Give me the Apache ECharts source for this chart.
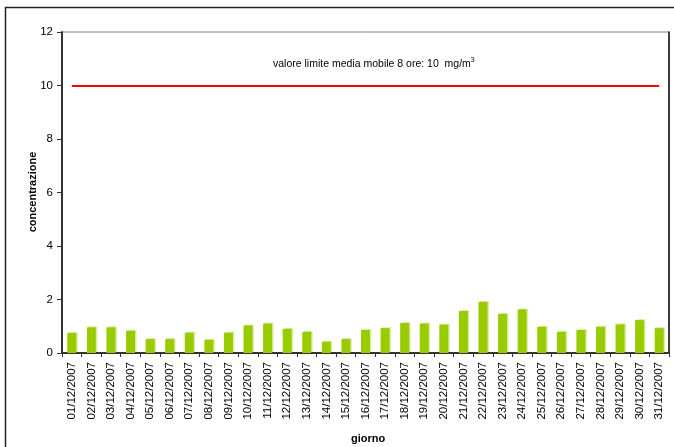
<!DOCTYPE html>
<html><head><meta charset="utf-8">
<script src="https://cdn.jsdelivr.net/npm/echarts@6/dist/echarts.min.js"></script>
<style>html,body{margin:0;padding:0;background:#fff}#c{width:674px;height:447px}</style>
</head><body><div id="c"></div>
<script>
const days = ["01/12/2007","02/12/2007","03/12/2007","04/12/2007","05/12/2007","06/12/2007","07/12/2007","08/12/2007","09/12/2007","10/12/2007","11/12/2007","12/12/2007","13/12/2007","14/12/2007","15/12/2007","16/12/2007","17/12/2007","18/12/2007","19/12/2007","20/12/2007","21/12/2007","22/12/2007","23/12/2007","24/12/2007","25/12/2007","26/12/2007","27/12/2007","28/12/2007","29/12/2007","30/12/2007","31/12/2007"];
const concentrazione = [0.75,0.96,0.96,0.83,0.52,0.52,0.76,0.49,0.76,1.03,1.10,0.90,0.79,0.42,0.52,0.86,0.93,1.12,1.10,1.06,1.57,1.91,1.46,1.63,0.98,0.79,0.86,0.98,1.07,1.23,0.93];
const limite = 10;
const yTicks = [0,2,4,6,8,10,12];

const font = "Liberation Sans, Arial, sans-serif";
const chart = echarts.init(document.getElementById('c'));
chart.setOption({
  animation: false,
  backgroundColor: '#fff',
  textStyle: {fontFamily: font},
  grid: {left: 62, right: 5, top: 32, bottom: 94, show: true, borderColor: '#808080', borderWidth: 1},
  graphic: [
    {type: 'rect', shape: {x: 5.5, y: 7.5, width: 800, height: 600}, style: {fill: 'none', stroke: '#222', lineWidth: 1.5}, z: 0},
    {type: 'text', left: 273, top: 57, style: {text: '{a|valore limite media mobile 8 ore: 10  mg/m}{s|3}', rich: {a: {fontSize: 10.5, fontFamily: font, fill: '#000'}, s: {fontSize: 7, fontFamily: font, fill: '#000', verticalAlign: 'top', padding: [0,0,7,0]}}}},
    {type: 'text', left: 351, top: 433, style: {text: 'giorno', font: 'bold 11px ' + font, fill: '#000'}},
    {type: 'text', x: 33, y: 192, rotation: Math.PI / 2, style: {text: 'concentrazione', font: 'bold 11px ' + font, fill: '#000', align: 'center', verticalAlign: 'middle'}}
  ],
  xAxis: {
    type: 'category', data: days, boundaryGap: true,
    axisLine: {lineStyle: {color: '#333', width: 2}},
    axisTick: {show: true, length: 4, lineStyle: {color: '#333', width: 1}},
    axisLabel: {rotate: 90, fontSize: 11.5, color: '#000', margin: 9, interval: 0, fontFamily: font},
    splitLine: {show: false}
  },
  yAxis: [{
    type: 'value', min: 0, max: 12, interval: 2,
    axisLine: {show: true, lineStyle: {color: '#333', width: 2}},
    axisTick: {show: true, length: 5, lineStyle: {color: '#333'}},
    axisLabel: {fontSize: 11.5, color: '#000', margin: 9, fontFamily: font},
    splitLine: {show: false}
  }, {
    type: 'value', min: 0, max: 12, interval: 2, position: 'right',
    axisLine: {show: true, lineStyle: {color: '#111', width: 1.5}},
    axisTick: {show: false}, axisLabel: {show: false}, splitLine: {show: false}
  }],
  series: [{
    type: 'bar', data: concentrazione, barWidth: 9,
    itemStyle: {color: '#99CC00', shadowColor: 'rgba(153,204,0,0.35)', shadowOffsetX: 1.5, shadowOffsetY: -1, shadowBlur: 0},
    markLine: {
      symbol: ['none','none'], silent: true,
      label: {show: false},
      lineStyle: {color: '#FF0000', width: 2, type: 'solid'},
      data: [[{coord: [days[0], limite]}, {coord: [days[days.length-1], limite]}]]
    }
  }]
});
</script></body></html>
